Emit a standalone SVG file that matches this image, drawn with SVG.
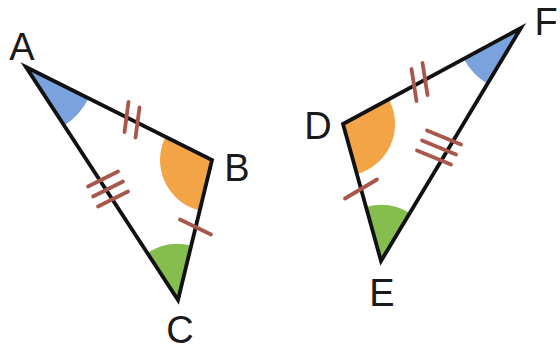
<svg xmlns="http://www.w3.org/2000/svg" width="560" height="356" viewBox="0 0 560 356">
<style>
.blue{fill:#7aa2dc}
.orange{fill:#f2a446}
.green{fill:#86bd4f}
.side{fill:none;stroke:#111;stroke-width:3.8;stroke-linejoin:miter}
.tick{stroke:#a9574d;stroke-width:3.8;stroke-linecap:round}
.lbl{font-family:"Liberation Sans",Arial,sans-serif;font-size:38px;fill:#1a1a1a;text-anchor:middle}
</style>
<rect width="560" height="356" fill="#ffffff"/>
<g id="triangle-ABC">
  <path class="blue" d="M26 67 L88.6 98.3 A70 70 0 0 1 64.2 125.6 Z"/>
  <path class="orange" d="M212 160 L199.7 210.5 A52 52 0 0 1 165.5 136.7 Z"/>
  <path class="green" d="M178 300 L147.4 253.1 A56 56 0 0 1 191.2 245.6 Z"/>
  <polygon class="side" points="26,67 212,160 178,300"/>
</g>
<g id="triangle-DEF">
  <path class="orange" d="M343 124 L388.8 99.3 A52 52 0 0 1 356.9 174.1 Z"/>
  <path class="green" d="M381 261 L366 207 A56 56 0 0 1 409.8 213 Z"/>
  <path class="blue" d="M521 28 L487.5 83.7 A65 65 0 0 1 463.8 58.9 Z"/>
  <polygon class="side" points="343,124 521,28 381,261"/>
</g>
<g id="connectors">
  <!-- AB double tick -->
  <line class="tick" x1="128.5" y1="102" x2="124.5" y2="132"/>
  <line class="tick" x1="139.5" y1="107.5" x2="135.5" y2="137.5"/>
  <!-- AC triple tick -->
  <line class="tick" x1="88" y1="186.5" x2="118" y2="171.5"/>
  <line class="tick" x1="93" y1="196.5" x2="123" y2="181.5"/>
  <line class="tick" x1="98" y1="206.5" x2="128" y2="191.5"/>
  <!-- BC single tick -->
  <line class="tick" x1="180" y1="219.5" x2="211" y2="234.5"/>
  <!-- DF double tick -->
  <line class="tick" x1="411.5" y1="69" x2="416.5" y2="101"/>
  <line class="tick" x1="422.5" y1="63" x2="427.5" y2="95"/>
  <!-- EF triple tick -->
  <line class="tick" x1="427" y1="130.5" x2="461" y2="144.5"/>
  <line class="tick" x1="422" y1="140.5" x2="456" y2="154.5"/>
  <line class="tick" x1="417" y1="150.5" x2="451" y2="164.5"/>
  <!-- DE single tick -->
  <line class="tick" x1="345" y1="198.5" x2="377" y2="179.5"/>
</g>
<g id="labels">
  <text class="lbl" x="22" y="60">A</text>
  <text class="lbl" x="237" y="181">B</text>
  <text class="lbl" x="180" y="343">C</text>
  <text class="lbl" x="318" y="139">D</text>
  <text class="lbl" x="382" y="306">E</text>
  <text class="lbl" x="546" y="35">F</text>
</g>
</svg>
